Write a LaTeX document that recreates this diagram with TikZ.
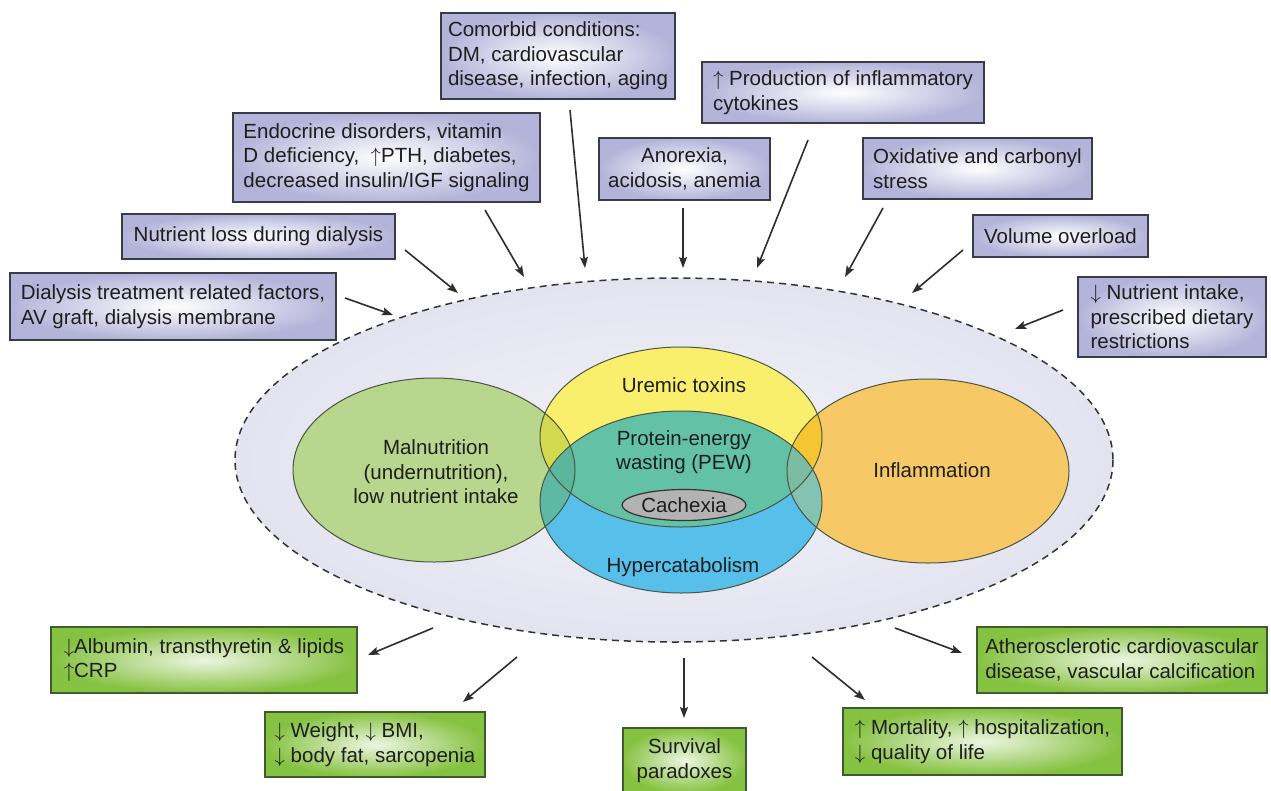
\documentclass[tikz,border=0pt]{standalone}
\usepackage{fontspec}
\setmainfont{Liberation Sans}
\usetikzlibrary{arrows.meta,shapes.geometric}
\definecolor{txt}{HTML}{1E1E1E}
\definecolor{lav}{HTML}{B4B4DA}
\definecolor{boxline}{HTML}{3A3A48}
\definecolor{grn}{HTML}{86C241}
\definecolor{grnline}{HTML}{3E5A2E}
\definecolor{bigfill}{HTML}{E4E4F1}
\definecolor{dashcol}{HTML}{333333}
\definecolor{gre}{HTML}{B8D68E}
\definecolor{yel}{HTML}{FAEF6C}
\definecolor{blu}{HTML}{56BFEA}
\definecolor{ora}{HTML}{F6C966}
\definecolor{gy}{HTML}{D4DA50}
\definecolor{gb}{HTML}{5DB9A3}
\definecolor{yb}{HTML}{63C1A6}
\definecolor{gyb}{HTML}{5BB79C}
\definecolor{oy}{HTML}{F6C632}
\definecolor{ob}{HTML}{84C2B2}
\definecolor{oyb}{HTML}{7BBCA3}
\definecolor{elline}{HTML}{4A5640}
\definecolor{cach}{HTML}{B3B3B3}
\definecolor{arr}{HTML}{2E2E2E}
\begin{document}
\begin{tikzpicture}[x=1pt,y=-1pt,
  font=\fontsize{20.5}{24.5}\selectfont, text=txt,
  lavbox/.style={draw=boxline, line width=1.8pt, inner color=white, outer color=lav, inner sep=0pt, align=left},
  grnbox/.style={draw=grnline, line width=1.8pt, inner color=white!85!grn, outer color=grn, inner sep=0pt, align=left},
  conn/.style={draw=arr, line width=1.6pt, -{Stealth[length=11pt,width=8pt,inset=2pt]}},
  lbl/.style={inner sep=0pt, align=center},
  outl/.style={draw=elline, line width=1pt}]
\useasboundingbox (0,0) rectangle (1271,790);
\fill[white] (0,0) rectangle (1271,790);

% outer dashed ellipse
\shade[inner color=white!55!bigfill, outer color=bigfill] (674,460) ellipse [x radius=439, y radius=182];
\draw[draw=dashcol, line width=1.5pt, dash pattern=on 7pt off 5pt] (674,460) ellipse [x radius=439, y radius=182];

% inner ellipses
\def\Gre{(434,470) ellipse [x radius=141, y radius=92]}
\def\Ora{(928,471) ellipse [x radius=141, y radius=92]}
\def\Yel{(681,437) ellipse [x radius=141, y radius=90]}
\def\Blu{(681,502) ellipse [x radius=141, y radius=91]}
\fill[gre] \Gre;
\fill[ora] \Ora;
\fill[yel] \Yel;
\fill[blu] \Blu;
\begin{scope}\clip \Gre; \fill[gy] \Yel; \fill[gb] \Blu; \end{scope}
\begin{scope}\clip \Yel; \fill[yb] \Blu; \end{scope}
\begin{scope}\clip \Gre; \clip \Yel; \fill[gyb] \Blu; \end{scope}
\begin{scope}\clip \Ora; \fill[oy] \Yel; \fill[ob] \Blu; \end{scope}
\begin{scope}\clip \Ora; \clip \Yel; \fill[oyb] \Blu; \end{scope}
\draw[outl] \Gre;
\draw[outl] \Ora;
\draw[outl] \Yel;
\draw[outl] \Blu;

\node[lbl] (maln) at (436,472) {Malnutrition\\(undernutrition),\\low nutrient intake};
\node[lbl] (infl) at (932,470) {Inflammation};
\node[lbl] (urem) at (684,385) {Uremic toxins};
\node[lbl] (pew) at (684,452) {Protein-energy\\wasting (PEW)};
\node[ellipse, draw=dashcol, line width=1.2pt, fill=cach, minimum width=124pt, minimum height=31pt, inner sep=0pt] (cachexia) at (684,505) {Cachexia};
\node[lbl] (hyper) at (683,567) {Hypercatabolism};

% top boxes
\node[lavbox, minimum width=234pt, minimum height=86pt] (comorbid) at (558,56) {Comorbid conditions:\\DM, cardiovascular\\disease, infection, aging};
\node[lavbox, minimum width=307pt, minimum height=89pt] (endo) at (386.5,157.5) {Endocrine disorders, vitamin\\D deficiency, \ $\uparrow$PTH, diabetes,\\decreased insulin/IGF signaling};
\node[lavbox, minimum width=282pt, minimum height=61pt] (prod) at (843,92.5) {$\uparrow$ Production of inflammatory\\cytokines};
\node[lavbox, align=center, minimum width=171pt, minimum height=62pt] (anor) at (684.5,169) {Anorexia,\\acidosis, anemia};
\node[lavbox, minimum width=229pt, minimum height=61pt] (oxid) at (977.5,168.5) {Oxidative and carbonyl\\stress\hphantom{ and carbonyl}};
\node[lavbox, minimum width=273pt, minimum height=45pt] (nutloss) at (258.5,236.5) {Nutrient loss during dialysis};
\node[lavbox, minimum width=175pt, minimum height=42pt] (volume) at (1060.5,236) {Volume overload};
\node[lavbox, minimum width=326pt, minimum height=67pt] (dial) at (173,306.5) {Dialysis treatment related factors,\\AV graft, dialysis membrane};
\node[lavbox, minimum width=188pt, minimum height=80pt] (nutint) at (1172,317) {$\downarrow$ Nutrient intake,\\prescribed dietary\\restrictions};

% bottom boxes
\node[grnbox, minimum width=306pt, minimum height=66pt] (album) at (204,660) {$\downarrow$Albumin, transthyretin \& lipids\\$\uparrow$CRP};
\node[grnbox, minimum width=220pt, minimum height=65pt] (weight) at (375,744.5) {$\downarrow$ Weight, $\downarrow$ BMI,\\$\downarrow$ body fat, sarcopenia};
\node[grnbox, align=center, minimum width=123pt, minimum height=65pt] (surv) at (684.5,760.5) {Survival\\paradoxes};
\node[grnbox, minimum width=279pt, minimum height=67pt] (mort) at (982.5,741.5) {$\uparrow$ Mortality, $\uparrow$ hospitalization,\\$\downarrow$ quality of life};
\node[grnbox, minimum width=290pt, minimum height=66pt] (athero) at (1122,660) {Atherosclerotic cardiovascular\\disease, vascular calcification};

% connector end points
\coordinate (dial-o) at (345,298);   \coordinate (dial-i) at (393,315);
\coordinate (nutloss-o) at (405,250); \coordinate (nutloss-i) at (458,293);
\coordinate (endo-o) at (485,210);   \coordinate (endo-i) at (524,277);
\coordinate (comorbid-o) at (570,110); \coordinate (comorbid-i) at (585,268);
\coordinate (anor-o) at (683,208);   \coordinate (anor-i) at (683,268);
\coordinate (prod-o) at (808,140);   \coordinate (prod-i) at (757,268);
\coordinate (oxid-o) at (883,208);   \coordinate (oxid-i) at (845,277);
\coordinate (volume-o) at (963,250); \coordinate (volume-i) at (912,293);
\coordinate (nutint-o) at (1063,310); \coordinate (nutint-i) at (1015,329);
\coordinate (album-o) at (433,628);  \coordinate (album-i) at (368,655);
\coordinate (weight-o) at (517,657); \coordinate (weight-i) at (463,702);
\coordinate (surv-o) at (684,658);   \coordinate (surv-i) at (684,718);
\coordinate (mort-o) at (812,657);   \coordinate (mort-i) at (865,700);
\coordinate (athero-o) at (895,628); \coordinate (athero-i) at (962,653);

\foreach \n in {dial,nutloss,endo,comorbid,anor,prod,oxid,volume,nutint,album,weight,surv,mort,athero}
  \draw[conn] (\n-o) -- (\n-i);
\end{tikzpicture}
\end{document}
